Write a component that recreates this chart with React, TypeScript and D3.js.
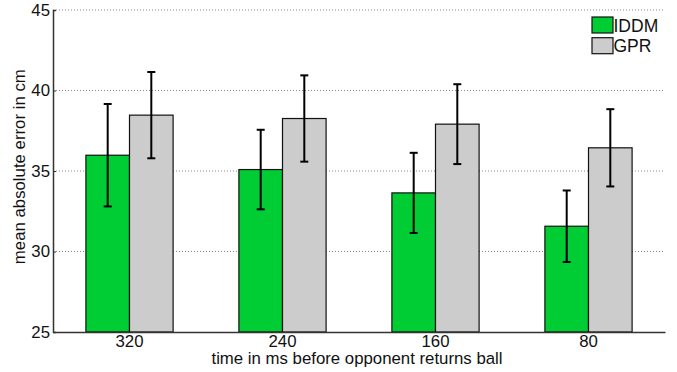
import * as d3 from "d3";
import { useEffect, useRef } from "react";

const categories = ["320", "240", "160", "80"];
const seriesNames = ["IDDM", "GPR"];
const iddmMean = [35.98, 35.09, 33.64, 31.57];
const iddmErr = [3.18, 2.47, 2.49, 2.22];
const gprMean = [38.47, 38.26, 37.91, 36.44];
const gprErr = [2.68, 2.68, 2.48, 2.4];
const yTicks = [25, 30, 35, 40, 45];

const W = 677;
const H = 372;
const MARGIN = { top: 10, right: 12, bottom: 40, left: 53 };
const COLORS = ["#00cc33", "#cccccc"];
const FONT = "'Liberation Sans', Arial, sans-serif";
const FS = 16.8;

const App = () => {
  const svgRef = useRef<SVGSVGElement>(null);

  useEffect(() => {
    if (!svgRef.current) return;
    d3.select(svgRef.current).selectAll("*").remove();

    const width = W - MARGIN.left - MARGIN.right;
    const height = H - MARGIN.top - MARGIN.bottom;

    const svg = d3
      .select(svgRef.current)
      .append("g")
      .attr("transform", `translate(${MARGIN.left},${MARGIN.top})`);

    const x = d3.scaleBand().domain(categories).range([0, width]).padding(0);
    const inner = d3
      .scaleBand()
      .domain(seriesNames)
      .range([0, x.bandwidth() * 0.57])
      .padding(0);
    const y = d3.scaleLinear().domain([25, 45]).range([height, 0]);

    // grid
    svg
      .append("g")
      .selectAll("line")
      .data(yTicks.slice(1))
      .join("line")
      .attr("x1", 0)
      .attr("x2", width)
      .attr("y1", (d) => y(d))
      .attr("y2", (d) => y(d))
      .attr("stroke", "#888")
      .attr("stroke-width", 1)
      .attr("stroke-dasharray", "1,2");

    const series = [
      { name: "IDDM", mean: iddmMean, err: iddmErr },
      { name: "GPR", mean: gprMean, err: gprErr },
    ];

    series.forEach((s, si) => {
      const g = svg.append("g");
      const bx = (i: number) =>
        (x(categories[i]) as number) +
        x.bandwidth() / 2 -
        x.bandwidth() * 0.285 +
        (inner(s.name) as number);
      g.selectAll("rect")
        .data(s.mean)
        .join("rect")
        .attr("x", (_, i) => bx(i))
        .attr("y", (d) => y(d))
        .attr("width", inner.bandwidth())
        .attr("height", (d) => height - y(d))
        .attr("fill", COLORS[si])
        .attr("stroke", "#111")
        .attr("stroke-width", 1.2);

      const eb = svg.append("g").attr("stroke", "#000").attr("stroke-width", 2);
      s.mean.forEach((m, i) => {
        const cx = bx(i) + inner.bandwidth() / 2;
        const lo = y(m - s.err[i]);
        const hi = y(m + s.err[i]);
        eb.append("line").attr("x1", cx).attr("x2", cx).attr("y1", lo).attr("y2", hi);
        eb.append("line").attr("x1", cx - 4).attr("x2", cx + 4).attr("y1", lo).attr("y2", lo);
        eb.append("line").attr("x1", cx - 4).attr("x2", cx + 4).attr("y1", hi).attr("y2", hi);
      });
    });

    // axes
    const yAxis = svg
      .append("g")
      .call(d3.axisLeft(y).tickValues(yTicks).tickSize(-3).tickPadding(3));
    yAxis.select(".domain").attr("stroke", "#333").attr("stroke-width", 1.5);
    yAxis.selectAll(".tick line").attr("stroke", "#333");
    yAxis
      .selectAll(".tick text")
      .attr("font-family", FONT)
      .attr("font-size", FS)
      .attr("fill", "#111");

    const xAxis = svg
      .append("g")
      .attr("transform", `translate(0,${height})`)
      .call(d3.axisBottom(x).tickSize(0).tickPadding(3.5).tickSizeOuter(0));
    xAxis.select(".domain").attr("stroke", "#333").attr("stroke-width", 1.5);
    xAxis
      .selectAll(".tick text")
      .attr("font-family", FONT)
      .attr("font-size", FS)
      .attr("fill", "#111");

    svg
      .append("text")
      .attr("x", width / 2 - 2)
      .attr("y", height + 32)
      .attr("text-anchor", "middle")
      .attr("font-family", FONT)
      .attr("font-size", FS)
      .attr("fill", "#111")
      .text("time in ms before opponent returns ball");

    svg
      .append("text")
      .attr("transform", `translate(-28,${166.7 - MARGIN.top}) rotate(-90)`)
      .attr("text-anchor", "middle")
      .attr("font-family", FONT)
      .attr("font-size", FS)
      .attr("fill", "#111")
      .text("mean absolute error in cm");

    // legend
    const legend = svg.append("g").attr("transform", `translate(${width - 73},7)`);
    seriesNames.forEach((n, i) => {
      legend
        .append("rect")
        .attr("x", 0)
        .attr("y", i * 20.7)
        .attr("width", 21)
        .attr("height", 16)
        .attr("fill", COLORS[i])
        .attr("stroke", "#111")
        .attr("stroke-width", 1.2);
      legend
        .append("text")
        .attr("x", 21.5)
        .attr("y", i * 20.7 + 14.5)
        .attr("font-family", FONT)
        .attr("font-size", 17.5)
        .attr("fill", "#111")
        .text(n);
    });
  }, []);

  return <svg ref={svgRef} width={W} height={H} style={{ display: "block", position: "absolute", left: 0, top: 0, background: "#fff" }} />;
};

export default App;
